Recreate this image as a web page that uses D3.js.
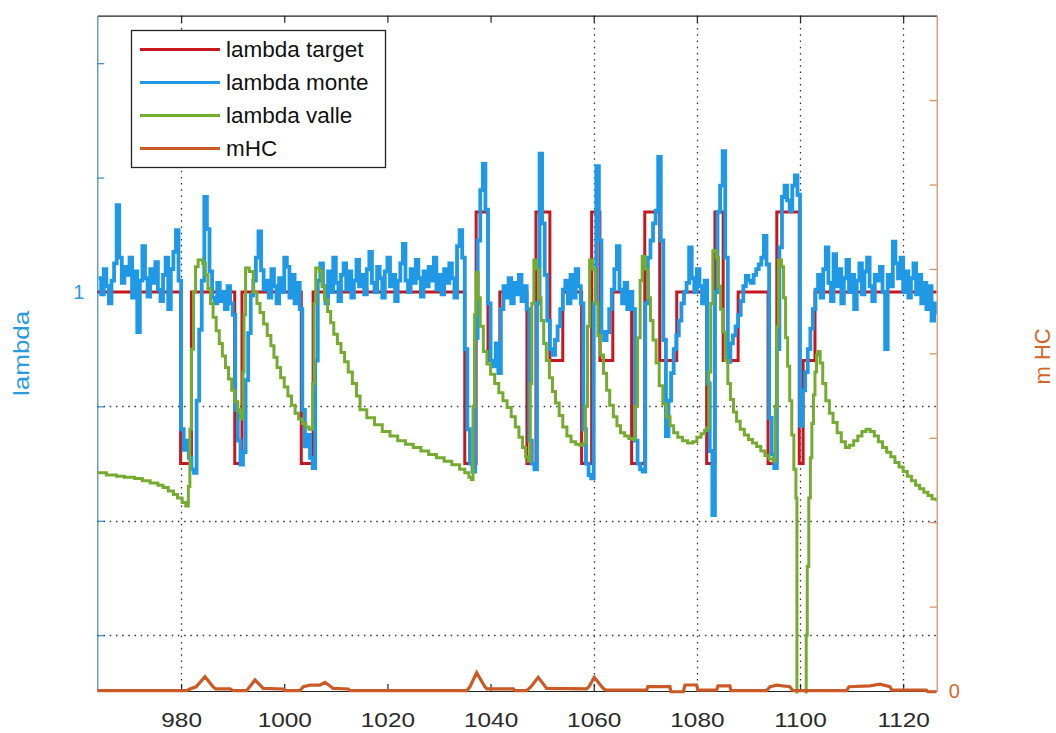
<!DOCTYPE html>
<html>
<head>
<meta charset="utf-8">
<script src="https://cdn.jsdelivr.net/npm/d3@7"></script>
<style>
  body { margin: 0; background: #fff; }
  svg { display: block; }
  text { font-family: "Liberation Sans", Arial, sans-serif; }
</style>
</head>
<body>
<svg id="chart" width="1056" height="733"></svg>
<script>
// ---- data -------------------------------------------------------------
// lambda monte: sampled signal, first sample time and sample spacing
const monteStart = 964;
const monteStep = 0.5;
const lambdaMonte = [
  1.012, 0.998, 1.020, 1.005, 0.990, 1.010, 1.025, 1.076, 1.030, 1.008,
  1.022, 1.015, 1.030, 0.995, 1.018, 0.965, 1.010, 1.040, 1.012, 0.996,
  1.020, 1.008, 1.026, 1.002, 0.992, 1.015, 1.030, 0.985, 1.020, 1.035,
  1.054, 1.010, 0.880, 0.862, 0.870, 0.855, 0.845, 0.842, 0.905, 0.967,
  1.010, 1.083, 1.055, 1.018, 0.995, 0.990, 1.008, 0.992, 1.000, 0.985,
  1.005, 0.990, 0.980, 0.897, 0.870, 0.849, 0.860, 0.923, 0.964, 0.997,
  1.010, 1.030, 1.053, 1.019, 1.002, 1.010, 0.995, 1.020, 1.005, 0.990,
  1.012, 1.000, 1.030, 1.022, 0.995, 1.015, 0.990, 1.008, 0.985, 0.897,
  0.865, 0.875, 0.855, 0.846, 0.940, 1.010, 1.025, 1.005, 0.990, 1.018,
  1.000, 1.030, 1.008, 0.992, 1.015, 1.025, 1.002, 1.018, 0.995, 1.010,
  1.028, 1.005, 1.015, 0.998, 1.020, 1.035, 1.008, 1.000, 1.022, 1.012,
  0.995, 1.018, 1.030, 1.005, 1.015, 0.992, 1.010, 1.025, 1.042, 1.010,
  1.000, 1.020, 1.008, 1.028, 1.012, 0.996, 1.018, 1.005, 1.022, 1.010,
  1.030, 1.002, 1.015, 0.998, 1.020, 1.008, 1.025, 1.012, 0.995, 1.040,
  1.054, 1.030, 0.950, 0.880, 0.850, 0.843, 0.960, 1.045, 1.089, 1.112,
  1.072, 0.990, 0.940, 0.935, 0.955, 0.929, 0.985, 1.005, 0.995, 1.012,
  0.990, 1.008, 0.998, 1.015, 0.992, 1.005, 0.985, 0.870, 0.850, 0.845,
  0.990, 1.121, 1.060, 1.015, 0.975, 0.950, 0.945, 0.958, 0.970, 0.985,
  1.002, 1.010, 0.990, 1.015, 0.995, 1.020, 1.005, 0.990, 0.880, 0.850,
  0.840, 0.837, 0.990, 1.110, 1.045, 0.965, 0.958, 0.965, 0.985, 1.002,
  1.020, 1.040, 1.002, 0.990, 1.008, 0.985, 1.000, 0.985, 0.870, 0.850,
  0.845, 0.843, 0.990, 1.030, 1.045, 1.060, 1.071, 1.118, 1.045, 0.958,
  0.874, 0.905, 0.929, 0.950, 0.962, 0.975, 0.990, 1.000, 1.008, 1.039,
  1.012, 1.000, 1.020, 1.005, 0.990, 1.010, 0.920, 0.861, 0.805, 1.000,
  1.070, 1.093, 1.123, 1.030, 0.939, 0.955, 0.962, 0.970, 0.980, 0.992,
  1.005, 1.014, 1.010, 1.008, 1.015, 1.020, 1.024, 1.030, 1.049, 1.024,
  0.890, 0.858, 0.846, 0.950, 1.039, 1.083, 1.093, 1.080, 1.071, 1.093,
  1.102, 1.085, 0.883, 0.914, 0.930, 0.950, 0.968, 0.985, 1.002, 1.015,
  0.995, 1.020, 1.039, 1.008, 0.992, 1.033, 1.005, 1.020, 0.990, 1.012,
  1.028, 1.000, 1.015, 0.985, 1.010, 1.025, 0.998, 1.018, 1.030, 1.005,
  0.992, 1.015, 1.010, 1.022, 1.000, 0.950, 1.015, 1.005, 1.044, 1.025,
  1.012, 1.030, 1.000, 1.018, 0.995, 1.012, 1.025, 0.998, 1.015, 0.990,
  1.008, 0.985, 1.005, 0.975, 0.990, 0.980
];

// lambda target: setpoint changes (time, value), held until the next change
const targetTime = [963.75, 979.9, 982.0, 990.4, 991.8, 1003.3, 1005.6, 1035.0, 1037.2, 1039.5,
  1041.8, 1047.05, 1048.8, 1051.5, 1054.0, 1057.65, 1059.6, 1061.2, 1063.7, 1067.35,
  1069.9, 1072.8, 1076.1, 1081.9, 1083.5, 1085.1, 1088.0, 1093.8, 1095.5, 1099.85,
  1100.6, 1102.9, 1126.5];
const targetValue = [1, 0.85, 1, 0.85, 1, 0.85, 1, 0.85, 1.07, 0.94,
  1, 0.85, 1.07, 0.94, 1, 0.85, 1.07, 0.94, 1, 0.85,
  1.07, 0.94, 1, 0.85, 1.07, 0.94, 1, 0.85, 1.07, 0.85,
  0.94, 1, 1];

// lambda valle: (time, value) steps
const valleTime = [963.75, 965.5, 967.5, 969, 971, 972.5, 974, 975.5, 976.5, 977.5,
  978.5, 979.3, 980.2, 980.9, 981.4, 981.7, 982.0, 982.4, 982.8, 983.3,
  984.2, 984.7, 985.2, 985.7, 986.2, 986.8, 987.4, 988.0, 988.6, 989.2,
  989.8, 990.4, 991.0, 991.5, 992.0, 992.2, 992.5, 993.2, 994.0, 994.7,
  995.3, 996.0, 996.7, 997.4, 998.0, 998.6, 999.3, 1000.0, 1000.7, 1001.4,
  1002.1, 1002.8, 1003.5, 1004.2, 1004.8, 1005.5, 1005.8, 1006.1, 1006.8, 1007.3,
  1007.8, 1008.4, 1009.0, 1009.6, 1010.3, 1011.0, 1011.7, 1012.4, 1013.2, 1014.0,
  1014.7, 1016.0, 1017.5, 1019.0, 1020.5, 1022.0, 1023.5, 1025.0, 1026.5, 1028.0,
  1029.5, 1031.0, 1032.5, 1034.0, 1035.0, 1035.8, 1036.3, 1036.6, 1036.9, 1037.2,
  1037.6, 1038.0, 1038.6, 1039.3, 1040.0, 1040.8, 1041.6, 1042.4, 1043.2, 1044.0,
  1044.8, 1045.5, 1046.2, 1046.8, 1047.3, 1047.7, 1048.0, 1048.4, 1048.9, 1049.4,
  1049.8, 1050.3, 1050.8, 1051.4, 1052.0, 1052.6, 1053.3, 1054.0, 1054.8, 1055.6,
  1056.5, 1057.3, 1058.0, 1058.4, 1058.8, 1059.2, 1059.8, 1060.3, 1060.8, 1061.3,
  1061.9, 1062.5, 1063.1, 1063.8, 1064.5, 1065.2, 1066.0, 1066.8, 1067.6, 1068.0,
  1068.5, 1069.0, 1069.4, 1070.0, 1070.5, 1071.0, 1071.5, 1072.1, 1072.7, 1073.4,
  1074.1, 1074.8, 1075.5, 1076.3, 1077.2, 1078.2, 1079.2, 1080.0, 1080.8, 1081.5,
  1082.0, 1082.3, 1082.7, 1083.1, 1083.8, 1084.2, 1084.6, 1085.0, 1085.5, 1086.0,
  1086.5, 1087.1, 1087.7, 1088.4, 1089.2, 1090.0, 1090.8, 1091.6, 1092.4, 1093.2,
  1094.0, 1094.8, 1095.2, 1095.5, 1095.8, 1096.4, 1096.8, 1097.2, 1097.6, 1098.0,
  1098.4, 1098.8, 1099.2, 1099.4, 1101.0, 1101.2, 1101.4, 1101.7, 1102.0, 1102.3,
  1102.6, 1102.9, 1103.2, 1103.5, 1103.9, 1104.4, 1105.0, 1105.7, 1106.4, 1107.2,
  1108.0, 1108.8, 1109.6, 1110.4, 1111.2, 1112.0, 1112.8, 1113.6, 1114.4, 1115.2,
  1116.0, 1116.8, 1117.6, 1118.4, 1119.2, 1120.0, 1120.8, 1121.6, 1122.4, 1123.2,
  1124.0, 1124.8, 1125.6, 1126.5];
const valleValue = [0.842, 0.840, 0.839, 0.838, 0.837, 0.835, 0.833, 0.831, 0.829, 0.826,
  0.823, 0.820, 0.816, 0.813, 0.830, 0.880, 0.950, 1.000, 1.022, 1.028,
  1.025, 1.015, 1.003, 0.990, 0.978, 0.966, 0.955, 0.944, 0.934, 0.924,
  0.914, 0.904, 0.896, 0.889, 0.930, 0.980, 1.021, 1.018, 1.000, 0.990,
  0.982, 0.972, 0.962, 0.953, 0.943, 0.934, 0.925, 0.917, 0.909, 0.901,
  0.894, 0.889, 0.885, 0.882, 0.880, 0.920, 0.990, 1.021, 1.018, 1.005,
  0.993, 0.983, 0.973, 0.963, 0.955, 0.947, 0.939, 0.930, 0.920, 0.909,
  0.897, 0.890, 0.884, 0.878, 0.874, 0.870, 0.867, 0.864, 0.861, 0.858,
  0.855, 0.852, 0.849, 0.845, 0.842, 0.838, 0.836, 0.900, 0.980, 1.017,
  0.995, 0.970, 0.948, 0.937, 0.928, 0.920, 0.912, 0.905, 0.899, 0.891,
  0.882, 0.873, 0.864, 0.856, 0.852, 0.920, 0.990, 1.028, 1.020, 0.995,
  0.975, 0.955, 0.940, 0.925, 0.913, 0.903, 0.892, 0.882, 0.874, 0.869,
  0.867, 0.866, 0.868, 0.900, 0.970, 1.028, 1.020, 0.990, 0.962, 0.945,
  0.929, 0.914, 0.901, 0.891, 0.883, 0.877, 0.874, 0.872, 0.871, 0.900,
  0.960, 1.010, 1.031, 1.020, 0.995, 0.975, 0.958, 0.938, 0.918, 0.902,
  0.891, 0.883, 0.877, 0.873, 0.870, 0.868, 0.869, 0.873, 0.876, 0.879,
  0.881, 0.930, 0.990, 1.036, 1.030, 1.005, 0.985, 0.965, 0.940, 0.920,
  0.906, 0.895, 0.887, 0.880, 0.875, 0.871, 0.868, 0.865, 0.861, 0.857,
  0.854, 0.852, 0.900, 0.970, 1.028, 1.022, 0.995, 0.960, 0.935, 0.905,
  0.875, 0.845, 0.820, 0.550, 0.620, 0.700, 0.760, 0.820, 0.855, 0.885,
  0.910, 0.930, 0.945, 0.948, 0.938, 0.920, 0.905, 0.894, 0.886, 0.877,
  0.869, 0.864, 0.866, 0.870, 0.874, 0.878, 0.880, 0.878, 0.874, 0.869,
  0.864, 0.860, 0.856, 0.851, 0.847, 0.843, 0.839, 0.835, 0.831, 0.828,
  0.825, 0.822, 0.819, 0.817];

// mHC (right axis): (time, value)
const mhcTime = [963.75, 981.08, 981.7, 982.9, 984.63, 986.2, 986.76, 989.47, 990.05, 992.7,
  994.32, 995.93, 999.8, 1000.1, 1003.04, 1003.7, 1004.98, 1006.9, 1007.9, 1009.5,
  1012.4, 1012.74, 1035.36, 1036.0, 1037.3, 1038.9, 1039.3, 1044.4, 1044.73, 1047.0,
  1047.83, 1049.24, 1050.87, 1058.6, 1059.07, 1060.1, 1061.85, 1062.4, 1070.26, 1070.5,
  1074.78, 1074.97, 1077.36, 1077.7, 1079.95, 1080.2, 1083.83, 1084.1, 1086.4, 1086.6,
  1093.5, 1094.2, 1095.46, 1098.04, 1098.6, 1109.03, 1109.5, 1113.55, 1115.49, 1117.43,
  1117.8, 1124.5, 1124.8, 1126.48];
const mhcValue = [0.004, 0.004, 0.024, 0.05, 0.169, 0.05, 0.024, 0.024, 0.004, 0.004,
  0.13, 0.03, 0.024, 0.004, 0.004, 0.051, 0.07, 0.07, 0.103, 0.03,
  0.024, 0.004, 0.004, 0.05, 0.217, 0.05, 0.024, 0.024, 0.004, 0.004,
  0.05, 0.162, 0.03, 0.024, 0.05, 0.162, 0.03, 0.01, 0.01, 0.051,
  0.051, -0.01, -0.01, 0.071, 0.071, 0.01, 0.01, 0.06, 0.06, 0.004,
  0.004, 0.05, 0.07, 0.051, 0.004, 0.004, 0.051, 0.06, 0.08, 0.051,
  0.01, 0.01, -0.01, -0.01];

// axes
const timeRange = [963.75, 1126.5];
const lambdaRange = [0.6512, 1.2415];
const mhcRange = [0, 8];
const timeTicks = [980, 1000, 1020, 1040, 1060, 1080, 1100, 1120];
const lambdaTicks = [0.7, 0.8, 0.9, 1.0, 1.1, 1.2];
const lambdaTickLabels = ["", "", "", "1", "", ""];
const mhcTicks = [0, 1, 2, 3, 4, 5, 6, 7];
const mhcTickLabels = ["0", "", "", "", "", "", "", ""];
const timeGrid = [980, 1060, 1080, 1100, 1120];
const lambdaGrid = [0.7, 0.8, 0.9];
const legendLabels = ["lambda target", "lambda monte", "lambda valle", "mHC"];

// ---- drawing ----------------------------------------------------------
const colors = {
  target: "#c8161e",
  monte: "#1f98e6",
  valle: "#76ab32",
  mhc: "#cc5a26",
  leftAxis: "#3a86c4",
  rightAxis: "#d08a5c",
  lambdaText: "#2a9be2",
  mhcText: "#d2662c",
  ink: "#222"
};

const box = { left: 97.3, right: 936.7, top: 15.7, bottom: 691 };
const svg = d3.select("#chart");

const x = d3.scaleLinear().domain(timeRange).range([box.left, box.right]);
const yL = d3.scaleLinear().domain(lambdaRange).range([box.bottom, box.top]);
const yR = d3.scaleLinear().domain(mhcRange).range([box.bottom, box.top]);

svg.append("defs").append("clipPath").attr("id", "plotClip")
  .append("rect")
  .attr("x", box.left).attr("y", box.top)
  .attr("width", box.right - box.left)
  .attr("height", box.bottom - box.top + 2.5);

// dotted grid
const grid = svg.append("g")
  .attr("stroke", "#333").attr("stroke-width", 1.3)
  .attr("stroke-dasharray", "1.5 4.7");
grid.selectAll("line.gx").data(timeGrid).join("line").attr("class", "gx")
  .attr("x1", d => Math.round(x(d)) + 0.5).attr("x2", d => Math.round(x(d)) + 0.5)
  .attr("y1", box.top).attr("y2", box.bottom);
grid.selectAll("line.gy").data(lambdaGrid).join("line").attr("class", "gy")
  .attr("y1", d => Math.round(yL(d)) + 0.5).attr("y2", d => Math.round(yL(d)) + 0.5)
  .attr("x1", box.left).attr("x2", box.right);

// axes
function styleTicks(g, color) {
  g.attr("font-family", null).attr("font-size", null);
  g.select(".domain").attr("stroke", color).attr("stroke-width", 1.2);
  g.selectAll(".tick line").attr("stroke", color).attr("stroke-width", 1.2);
}

const gBottom = svg.append("g")
  .attr("transform", `translate(0,${box.bottom})`)
  .call(d3.axisBottom(x).tickValues(timeTicks).tickSizeInner(-7).tickSizeOuter(0)
    .tickPadding(22).tickFormat(d3.format("d")));
styleTicks(gBottom, colors.ink);
gBottom.selectAll(".tick text")
  .attr("font-size", 20).attr("fill", "#2a2a2a")
  .attr("transform", "scale(1.22,1)");

const gTop = svg.append("g")
  .attr("transform", `translate(0,${box.top})`)
  .call(d3.axisTop(x).tickValues(timeTicks).tickSizeInner(-7).tickSizeOuter(0)
    .tickFormat(() => ""));
styleTicks(gTop, colors.ink);

const gLeft = svg.append("g")
  .attr("transform", `translate(${box.left},0)`)
  .call(d3.axisLeft(yL).tickValues(lambdaTicks).tickSizeInner(-7).tickSizeOuter(0)
    .tickPadding(13).tickFormat((d, i) => lambdaTickLabels[i]));
styleTicks(gLeft, colors.leftAxis);
gLeft.selectAll(".tick text")
  .attr("font-size", 20).attr("fill", colors.lambdaText);

const gRight = svg.append("g")
  .attr("transform", `translate(${box.right},0)`)
  .call(d3.axisRight(yR).tickValues(mhcTicks).tickSizeInner(-7).tickSizeOuter(0)
    .tickPadding(12).tickFormat((d, i) => mhcTickLabels[i]));
styleTicks(gRight, colors.rightAxis);
gRight.selectAll(".tick text")
  .attr("font-size", 20).attr("fill", colors.mhcText);

// axis titles
svg.append("text")
  .attr("transform", `translate(29,${(box.top + box.bottom) / 2}) rotate(-90) scale(1.18,1)`)
  .attr("text-anchor", "middle").attr("font-size", 22)
  .attr("fill", colors.lambdaText).text("lambda");
svg.append("text")
  .attr("transform", `translate(1050,${(box.top + box.bottom) / 2 + 3}) rotate(-90)`)
  .attr("text-anchor", "middle").attr("font-size", 22)
  .attr("fill", colors.mhcText).text("m HC");

// series
const plot = svg.append("g").attr("clip-path", "url(#plotClip)")
  .attr("fill", "none").attr("stroke-linejoin", "miter");

const stepLine = d3.line().curve(d3.curveStepAfter);

plot.append("path")
  .attr("stroke", colors.target).attr("stroke-width", 3)
  .attr("d", stepLine(targetTime.map((t, i) => [x(t), yL(targetValue[i])])));

plot.append("path")
  .attr("stroke", colors.monte).attr("stroke-width", 3.8)
  .attr("d", stepLine(lambdaMonte.map((v, i) => [x(monteStart + i * monteStep), yL(v)])));

plot.append("path")
  .attr("stroke", colors.valle).attr("stroke-width", 3)
  .attr("d", stepLine(valleTime.map((t, i) => [x(t), yL(valleValue[i])])));

plot.append("path")
  .attr("stroke", colors.mhc).attr("stroke-width", 3.2)
  .attr("d", d3.line()(mhcTime.map((t, i) => [x(t), yR(mhcValue[i])])));

// legend
const legendColors = [colors.target, colors.monte, colors.valle, colors.mhc];
const legend = svg.append("g");
legend.append("rect")
  .attr("x", 131.5).attr("y", 30.5).attr("width", 254).attr("height", 137)
  .attr("fill", "#fff").attr("stroke", colors.ink).attr("stroke-width", 1.3);
const rows = legend.selectAll("g.row").data(legendLabels).join("g")
  .attr("class", "row")
  .attr("transform", (d, i) => `translate(0,${49.5 + i * 33})`);
rows.append("line")
  .attr("x1", 140).attr("x2", 220)
  .attr("stroke", (d, i) => legendColors[i]).attr("stroke-width", 3);
rows.append("text")
  .attr("x", 226).attr("dy", "0.35em")
  .attr("font-size", 22.5).attr("fill", "#111")
  .text(d => d);
</script>
</body>
</html>
